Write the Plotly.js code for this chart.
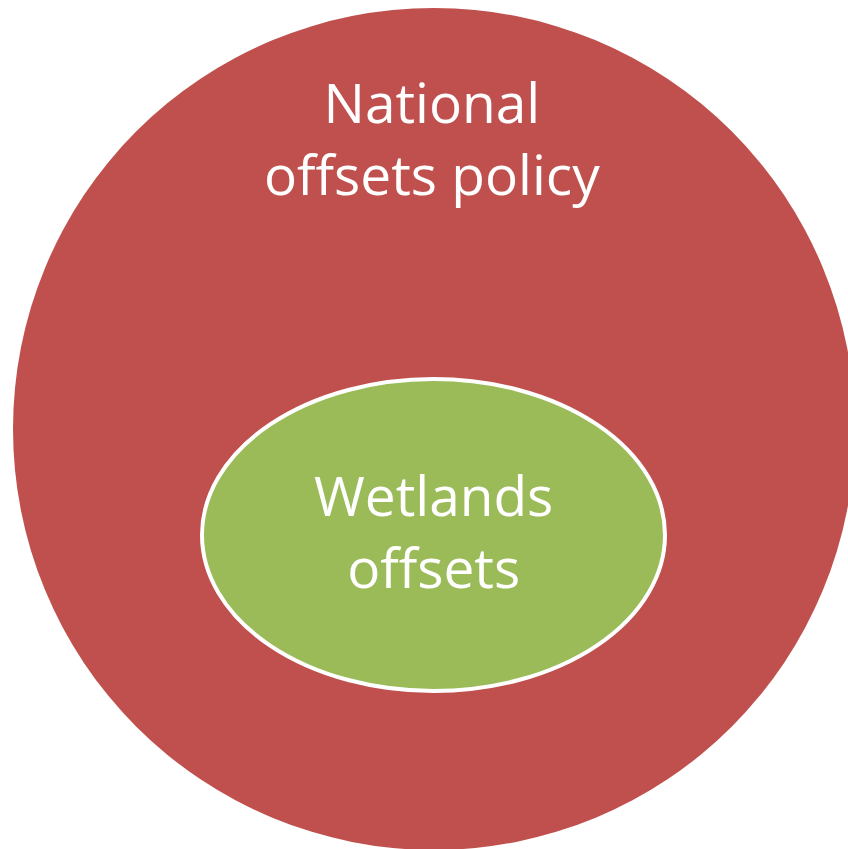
<!DOCTYPE html>
<html>
<head>
<meta charset="utf-8">
<script src="https://cdn.plot.ly/plotly-3.0.1.min.js"></script>
<style>html,body{margin:0;padding:0;background:#fff;}#chart{width:848px;height:849px;}</style>
</head>
<body>
<div id="chart"></div>
<script>
// Diagram content
var setNames = ["National offsets policy", "Wetlands offsets"];
var outerLabelLines = ["National", "offsets policy"];
var innerLabelLines = ["Wetlands", "offsets"];
var setColors = ["#C0504D", "#9BBB59"];

// Geometry (pixel-space on axes with range = canvas size)
var W = 848, H = 849;
var outer = {cx: 434, cy: 429, r: 421};
var inner = {cx: 433.5, cy: 535, rx: 231.5, ry: 156};

var shapes = [
  {type: "circle", xref: "x", yref: "y",
   x0: outer.cx - outer.r, x1: outer.cx + outer.r,
   y0: outer.cy - outer.r, y1: outer.cy + outer.r,
   fillcolor: setColors[0], line: {width: 0}, layer: "below"},
  {type: "circle", xref: "x", yref: "y",
   x0: inner.cx - inner.rx, x1: inner.cx + inner.rx,
   y0: inner.cy - inner.ry, y1: inner.cy + inner.ry,
   fillcolor: setColors[1], line: {color: "#FFFFFF", width: 4}, layer: "below"}
];

var font = {family: "Open Sans, sans-serif", size: 55, color: "#FFFFFF"};
var annotations = [
  {text: outerLabelLines.join("<br>"), x: 432, y: 137, xref: "x", yref: "y",
   showarrow: false, xanchor: "center", yanchor: "middle", align: "center", font: font},
  {text: innerLabelLines.join("<br>"), x: 433, y: 530, xref: "x", yref: "y",
   showarrow: false, xanchor: "center", yanchor: "middle", align: "center", font: font}
];

var layout = {
  width: W, height: H,
  margin: {l: 0, r: 0, t: 0, b: 0, pad: 0},
  paper_bgcolor: "#FFFFFF", plot_bgcolor: "#FFFFFF",
  xaxis: {range: [0, W], visible: false, fixedrange: true},
  yaxis: {range: [H, 0], visible: false, fixedrange: true},
  showlegend: false,
  shapes: shapes,
  annotations: annotations
};

Plotly.newPlot("chart", [{x: [], y: [], type: "scatter", name: setNames[0]}], layout, {staticPlot: true, displayModeBar: false});
</script>
</body>
</html>
